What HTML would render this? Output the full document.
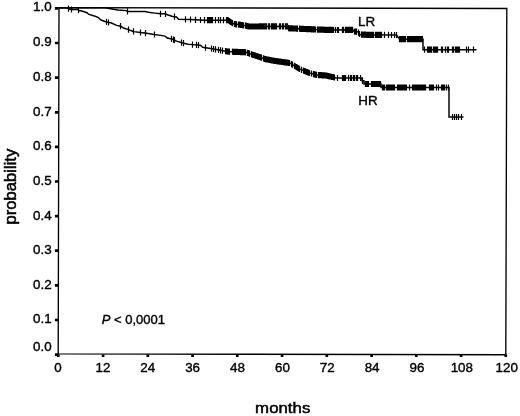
<!DOCTYPE html>
<html><head><meta charset="utf-8"><title>Kaplan-Meier</title>
<style>
html,body{margin:0;padding:0;background:#fff;}
svg{display:block;}
text{font-family:"Liberation Sans",Arial,sans-serif;fill:#000;}
</style></head>
<body>
<svg width="520" height="416" viewBox="0 0 520 416">
<rect width="520" height="416" fill="#fff"/>
<path d="M59,7.6 L506.8,8.5 L505.8,354.7 L58.2,353.9 Z" fill="none" stroke="#000" stroke-width="1.35"/>
<path d="M54.9,8.4h3.7M54.9,43.0h3.7M54.9,77.6h3.7M54.9,112.3h3.7M54.9,146.9h3.7M54.9,181.5h3.7M54.9,216.1h3.7M54.9,250.7h3.7M54.9,285.4h3.7M54.9,320.0h3.7M54.9,354.6h3.7" stroke="#000" stroke-width="2.7" fill="none"/>
<path d="M58.3,354.4v2.6M103.1,354.4v2.6M147.8,354.4v2.6M192.6,354.4v2.6M237.3,354.4v2.6M282.1,354.4v2.6M326.8,354.4v2.6M371.6,354.4v2.6M416.3,354.4v2.6M461.1,354.4v2.6M505.8,354.4v2.6" stroke="#000" stroke-width="2.7" fill="none"/>
<path d="M59.0,7.7 L67.0,7.8 L69.0,9.0 L72.0,9.6 L78.0,9.6 L79.0,10.8 L81.0,10.8 L87.0,12.7 L88.5,14.2 L95.0,16.2 L98.0,17.3 L101.0,20.0 L105.0,21.5 L108.0,22.4 L111.5,23.0 L116.5,25.4 L121.0,26.3 L123.5,28.0 L128.5,29.6 L132.7,31.2 L134.0,31.6 L140.4,32.5 L145.0,33.0 L154.2,34.5 L160.8,35.4 L165.0,36.1 L167.3,38.0 L172.7,39.2 L176.5,41.1 L182.7,43.0 L188.0,44.2 L192.7,44.6 L198.0,45.0 L200.4,45.3 L202.7,47.2 L205.8,47.7 L216.5,49.5 L227.0,51.5 L245.8,52.3 L256.5,56.0 L265.8,59.2 L274.0,60.8 L289.6,63.0 L300.0,69.2 L309.6,73.0 L317.0,75.0 L325.0,75.4 L332.7,77.0 L336.0,78.0 L362.0,78.0 L362.0,80.8 L364.0,80.8 L364.0,84.0 L381.0,84.0 L381.0,87.5 L449.0,87.5 L449.0,117.0 L463.5,117.0" stroke="#000" stroke-width="1.45" fill="none" stroke-linejoin="miter"/>
<path d="M59.0,7.7 L105.0,7.9 L112.0,9.0 L118.0,10.0 L126.0,10.6 L128.0,11.5 L145.4,11.5 L148.5,12.3 L154.6,13.1 L160.8,13.8 L165.0,13.8 L168.0,15.0 L172.7,16.5 L176.5,17.0 L178.5,19.3 L190.0,19.5 L205.0,20.2 L228.0,20.2 L233.5,23.8 L244.0,25.4 L249.0,26.5 L288.0,26.3 L288.0,28.2 L318.0,29.6 L335.0,30.0 L352.7,29.8 L354.0,31.5 L358.0,31.9 L360.0,34.7 L396.5,35.0 L399.6,39.2 L423.0,39.2 L423.0,49.7 L476.5,49.7" stroke="#000" stroke-width="1.45" fill="none" stroke-linejoin="miter"/>
<path d="M68.5,5.6v6.2M71.5,6.4v6.2M78.5,7.1v6.2M106.5,18.8v6.2M108.5,19.4v6.2M120.5,23.1v6.2M128.5,26.5v6.2M133.5,28.3v6.2M140.5,29.4v6.2M145.5,30.0v6.2M154.5,31.4v6.2M171.5,35.8v6.2M173.5,36.5v6.2M174.5,37.0v6.2M181.5,39.5v6.2M183.5,40.1v6.2M192.5,41.5v6.2M196.5,41.8v6.2M198.5,42.0v6.2M205.5,44.6v6.2M211.5,45.6v6.2M213.5,45.9v6.2M215.5,46.2v6.2M218.5,46.8v6.2M220.5,47.2v6.2M222.5,47.5v6.2M225.5,48.1v6.2M226.5,48.3v6.2M227.5,48.4v6.2M228.5,48.5v6.2M229.5,48.5v6.2M232.5,48.6v6.2M233.5,48.7v6.2M234.5,48.7v6.2M235.5,48.8v6.2M236.5,48.8v6.2M237.5,48.8v6.2M238.5,48.9v6.2M239.5,48.9v6.2M240.5,49.0v6.2M241.5,49.0v6.2M242.5,49.1v6.2M243.5,49.1v6.2M244.5,49.1v6.2M245.5,49.2v6.2M247.5,49.8v6.2M248.5,50.1v6.2M249.5,50.5v6.2M251.5,51.2v6.2M252.5,51.5v6.2M253.5,51.9v6.2M254.5,52.2v6.2M255.5,52.6v6.2M256.5,52.9v6.2M257.5,53.2v6.2M258.5,53.6v6.2M259.5,53.9v6.2M260.5,54.3v6.2M261.5,54.6v6.2M263.5,55.3v6.2M264.5,55.7v6.2M265.5,56.0v6.2M266.5,56.2v6.2M267.5,56.4v6.2M268.5,56.6v6.2M269.5,56.8v6.2M270.5,57.0v6.2M271.5,57.2v6.2M272.5,57.4v6.2M273.5,57.6v6.2M274.5,57.8v6.2M275.5,57.9v6.2M276.5,58.1v6.2M277.5,58.2v6.2M278.5,58.3v6.2M279.5,58.5v6.2M280.5,58.6v6.2M281.5,58.8v6.2M282.5,58.9v6.2M283.5,59.0v6.2M284.5,59.2v6.2M285.5,59.3v6.2M286.5,59.5v6.2M287.5,59.6v6.2M288.5,59.7v6.2M289.5,59.9v6.2M291.5,61.0v6.2M292.5,61.6v6.2M294.5,62.8v6.2M295.5,63.4v6.2M296.5,64.0v6.2M297.5,64.6v6.2M298.5,65.2v6.2M299.5,65.8v6.2M301.5,66.7v6.2M303.5,67.5v6.2M304.5,67.9v6.2M305.5,68.3v6.2M306.5,68.7v6.2M307.5,69.1v6.2M308.5,69.5v6.2M309.5,69.9v6.2M311.5,70.4v6.2M313.5,71.0v6.2M314.5,71.2v6.2M315.5,71.5v6.2M316.5,71.8v6.2M318.5,72.0v6.2M319.5,72.0v6.2M320.5,72.1v6.2M321.5,72.1v6.2M322.5,72.2v6.2M323.5,72.2v6.2M324.5,72.3v6.2M325.5,72.4v6.2M326.5,72.6v6.2M327.5,72.8v6.2M328.5,73.0v6.2M329.5,73.2v6.2M330.5,73.4v6.2M331.5,73.7v6.2M332.5,73.9v6.2M333.5,74.1v6.2M334.5,74.4v6.2M337.5,74.9v6.2M342.5,74.9v6.2M343.5,74.9v6.2M344.5,74.9v6.2M345.5,74.9v6.2M348.5,74.9v6.2M350.5,74.9v6.2M351.5,74.9v6.2M353.5,74.9v6.2M354.5,74.9v6.2M356.5,74.9v6.2M357.5,74.9v6.2M360.5,74.9v6.2M362.5,77.7v6.2M365.5,80.9v6.2M366.5,80.9v6.2M367.5,80.9v6.2M368.5,80.9v6.2M371.5,80.9v6.2M372.5,80.9v6.2M373.5,80.9v6.2M374.5,80.9v6.2M375.5,80.9v6.2M376.5,80.9v6.2M377.5,80.9v6.2M378.5,80.9v6.2M379.5,80.9v6.2M380.5,80.9v6.2M382.5,84.4v6.2M383.5,84.4v6.2M384.5,84.4v6.2M386.5,84.4v6.2M387.5,84.4v6.2M388.5,84.4v6.2M389.5,84.4v6.2M390.5,84.4v6.2M391.5,84.4v6.2M392.5,84.4v6.2M393.5,84.4v6.2M394.5,84.4v6.2M397.5,84.4v6.2M398.5,84.4v6.2M399.5,84.4v6.2M400.5,84.4v6.2M401.5,84.4v6.2M402.5,84.4v6.2M403.5,84.4v6.2M404.5,84.4v6.2M405.5,84.4v6.2M406.5,84.4v6.2M409.5,84.4v6.2M412.5,84.4v6.2M413.5,84.4v6.2M414.5,84.4v6.2M415.5,84.4v6.2M416.5,84.4v6.2M417.5,84.4v6.2M418.5,84.4v6.2M419.5,84.4v6.2M420.5,84.4v6.2M421.5,84.4v6.2M422.5,84.4v6.2M423.5,84.4v6.2M424.5,84.4v6.2M425.5,84.4v6.2M429.5,84.4v6.2M430.5,84.4v6.2M431.5,84.4v6.2M432.5,84.4v6.2M433.5,84.4v6.2M436.5,84.4v6.2M438.5,84.4v6.2M441.5,84.4v6.2M442.5,84.4v6.2M443.5,84.4v6.2M444.5,84.4v6.2M446.5,84.4v6.2M448.5,84.4v6.2M452.5,113.9v6.2M454.5,113.9v6.2M456.5,113.9v6.2M458.5,113.9v6.2M461.5,113.9v6.2" stroke="#000" stroke-width="1.2" fill="none"/>
<path d="M127.5,8.2v6.2M160.5,10.7v6.2M165.5,10.9v6.2M174.5,13.6v6.2M185.5,16.3v6.2M190.5,16.4v6.2M195.5,16.7v6.2M200.5,16.9v6.2M204.5,17.1v6.2M207.5,17.1v6.2M208.5,17.1v6.2M209.5,17.1v6.2M210.5,17.1v6.2M211.5,17.1v6.2M212.5,17.1v6.2M215.5,17.1v6.2M218.5,17.1v6.2M220.5,17.1v6.2M223.5,17.1v6.2M226.5,17.1v6.2M227.5,17.1v6.2M228.5,17.4v6.2M229.5,18.1v6.2M230.5,18.7v6.2M231.5,19.4v6.2M232.5,20.0v6.2M234.5,20.9v6.2M235.5,21.0v6.2M236.5,21.2v6.2M238.5,21.5v6.2M239.5,21.6v6.2M240.5,21.8v6.2M241.5,21.9v6.2M242.5,22.1v6.2M243.5,22.2v6.2M245.5,22.6v6.2M246.5,22.8v6.2M247.5,23.1v6.2M248.5,23.3v6.2M249.5,23.4v6.2M250.5,23.4v6.2M251.5,23.4v6.2M252.5,23.4v6.2M253.5,23.4v6.2M254.5,23.4v6.2M255.5,23.4v6.2M256.5,23.4v6.2M257.5,23.4v6.2M258.5,23.4v6.2M259.5,23.3v6.2M260.5,23.3v6.2M261.5,23.3v6.2M262.5,23.3v6.2M263.5,23.3v6.2M264.5,23.3v6.2M265.5,23.3v6.2M266.5,23.3v6.2M268.5,23.3v6.2M269.5,23.3v6.2M271.5,23.3v6.2M272.5,23.3v6.2M273.5,23.3v6.2M274.5,23.3v6.2M275.5,23.3v6.2M276.5,23.3v6.2M279.5,23.2v6.2M280.5,23.2v6.2M282.5,23.2v6.2M283.5,23.2v6.2M285.5,23.2v6.2M286.5,23.2v6.2M287.5,23.2v6.2M288.5,25.1v6.2M289.5,25.2v6.2M290.5,25.2v6.2M291.5,25.3v6.2M292.5,25.3v6.2M293.5,25.4v6.2M294.5,25.4v6.2M295.5,25.4v6.2M296.5,25.5v6.2M297.5,25.5v6.2M299.5,25.6v6.2M300.5,25.7v6.2M301.5,25.7v6.2M302.5,25.8v6.2M303.5,25.8v6.2M304.5,25.9v6.2M305.5,25.9v6.2M306.5,26.0v6.2M307.5,26.0v6.2M308.5,26.1v6.2M309.5,26.1v6.2M310.5,26.1v6.2M311.5,26.2v6.2M312.5,26.2v6.2M313.5,26.3v6.2M314.5,26.3v6.2M315.5,26.4v6.2M317.5,26.5v6.2M318.5,26.5v6.2M319.5,26.5v6.2M320.5,26.6v6.2M321.5,26.6v6.2M322.5,26.6v6.2M323.5,26.6v6.2M324.5,26.7v6.2M325.5,26.7v6.2M326.5,26.7v6.2M327.5,26.7v6.2M328.5,26.7v6.2M329.5,26.8v6.2M330.5,26.8v6.2M331.5,26.8v6.2M332.5,26.8v6.2M333.5,26.9v6.2M335.5,26.9v6.2M337.5,26.9v6.2M338.5,26.9v6.2M342.5,26.8v6.2M343.5,26.8v6.2M345.5,26.8v6.2M346.5,26.8v6.2M347.5,26.8v6.2M348.5,26.7v6.2M349.5,26.7v6.2M350.5,26.7v6.2M351.5,26.7v6.2M352.5,26.7v6.2M354.5,28.4v6.2M355.5,28.5v6.2M356.5,28.6v6.2M358.5,29.5v6.2M359.5,30.9v6.2M361.5,31.6v6.2M362.5,31.6v6.2M363.5,31.6v6.2M364.5,31.6v6.2M365.5,31.6v6.2M366.5,31.7v6.2M367.5,31.7v6.2M368.5,31.7v6.2M369.5,31.7v6.2M370.5,31.7v6.2M371.5,31.7v6.2M372.5,31.7v6.2M373.5,31.7v6.2M375.5,31.7v6.2M376.5,31.7v6.2M377.5,31.7v6.2M378.5,31.8v6.2M379.5,31.8v6.2M380.5,31.8v6.2M381.5,31.8v6.2M384.5,31.8v6.2M388.5,31.8v6.2M391.5,31.9v6.2M394.5,31.9v6.2M396.5,31.9v6.2M399.5,36.0v6.2M400.5,36.1v6.2M401.5,36.1v6.2M402.5,36.1v6.2M403.5,36.1v6.2M404.5,36.1v6.2M405.5,36.1v6.2M407.5,36.1v6.2M408.5,36.1v6.2M409.5,36.1v6.2M410.5,36.1v6.2M411.5,36.1v6.2M412.5,36.1v6.2M413.5,36.1v6.2M414.5,36.1v6.2M415.5,36.1v6.2M416.5,36.1v6.2M417.5,36.1v6.2M418.5,36.1v6.2M419.5,36.1v6.2M420.5,36.1v6.2M421.5,36.1v6.2M422.5,36.1v6.2M424.5,46.6v6.2M427.5,46.6v6.2M428.5,46.6v6.2M429.5,46.6v6.2M430.5,46.6v6.2M431.5,46.6v6.2M433.5,46.6v6.2M434.5,46.6v6.2M435.5,46.6v6.2M436.5,46.6v6.2M437.5,46.6v6.2M441.5,46.6v6.2M442.5,46.6v6.2M445.5,46.6v6.2M447.5,46.6v6.2M448.5,46.6v6.2M452.5,46.6v6.2M453.5,46.6v6.2M455.5,46.6v6.2M456.5,46.6v6.2M457.5,46.6v6.2M458.5,46.6v6.2M459.5,46.6v6.2M466.5,46.6v6.2M468.5,46.6v6.2M473.5,46.6v6.2" stroke="#000" stroke-width="1.2" fill="none"/>
<g font-size="13.4" stroke="#000" stroke-width="0.38"><text x="51.6" y="11.4" text-anchor="end">1.0</text><text x="51.6" y="46.4" text-anchor="end">0.9</text><text x="51.6" y="81.0" text-anchor="end">0.8</text><text x="51.6" y="115.7" text-anchor="end">0.7</text><text x="51.6" y="150.3" text-anchor="end">0.6</text><text x="51.6" y="184.9" text-anchor="end">0.5</text><text x="51.6" y="219.5" text-anchor="end">0.4</text><text x="51.6" y="254.1" text-anchor="end">0.3</text><text x="51.6" y="288.8" text-anchor="end">0.2</text><text x="51.6" y="323.4" text-anchor="end">0.1</text><text x="51.6" y="351.0" text-anchor="end">0.0</text><text x="58.0" y="372.1" text-anchor="middle">0</text><text x="102.9" y="372.1" text-anchor="middle">12</text><text x="147.7" y="372.1" text-anchor="middle">24</text><text x="192.6" y="372.1" text-anchor="middle">36</text><text x="237.5" y="372.1" text-anchor="middle">48</text><text x="282.4" y="372.1" text-anchor="middle">60</text><text x="327.2" y="372.1" text-anchor="middle">72</text><text x="372.1" y="372.1" text-anchor="middle">84</text><text x="417.0" y="372.1" text-anchor="middle">96</text><text x="461.8" y="372.1" text-anchor="middle">108</text><text x="506.7" y="372.1" text-anchor="middle">120</text>
<text transform="translate(358,25.9) scale(1.08,1)" font-size="12.4" stroke-width="0.35">LR</text>
<text transform="translate(358.3,105.1) scale(1.08,1)" font-size="12.4" stroke-width="0.35">HR</text>
<text x="101.7" y="323.9" font-size="13"><tspan font-style="italic">P</tspan> &lt; 0,0001</text>
</g>
<text transform="translate(282.7,412.5) scale(1.1,1)" font-size="15.3" text-anchor="middle" stroke="#000" stroke-width="0.5">months</text>
<text transform="translate(16.3,186.6) rotate(-90) scale(1.04,1)" font-size="16" text-anchor="middle" stroke="#000" stroke-width="0.5">probability</text>
</svg>
</body></html>
